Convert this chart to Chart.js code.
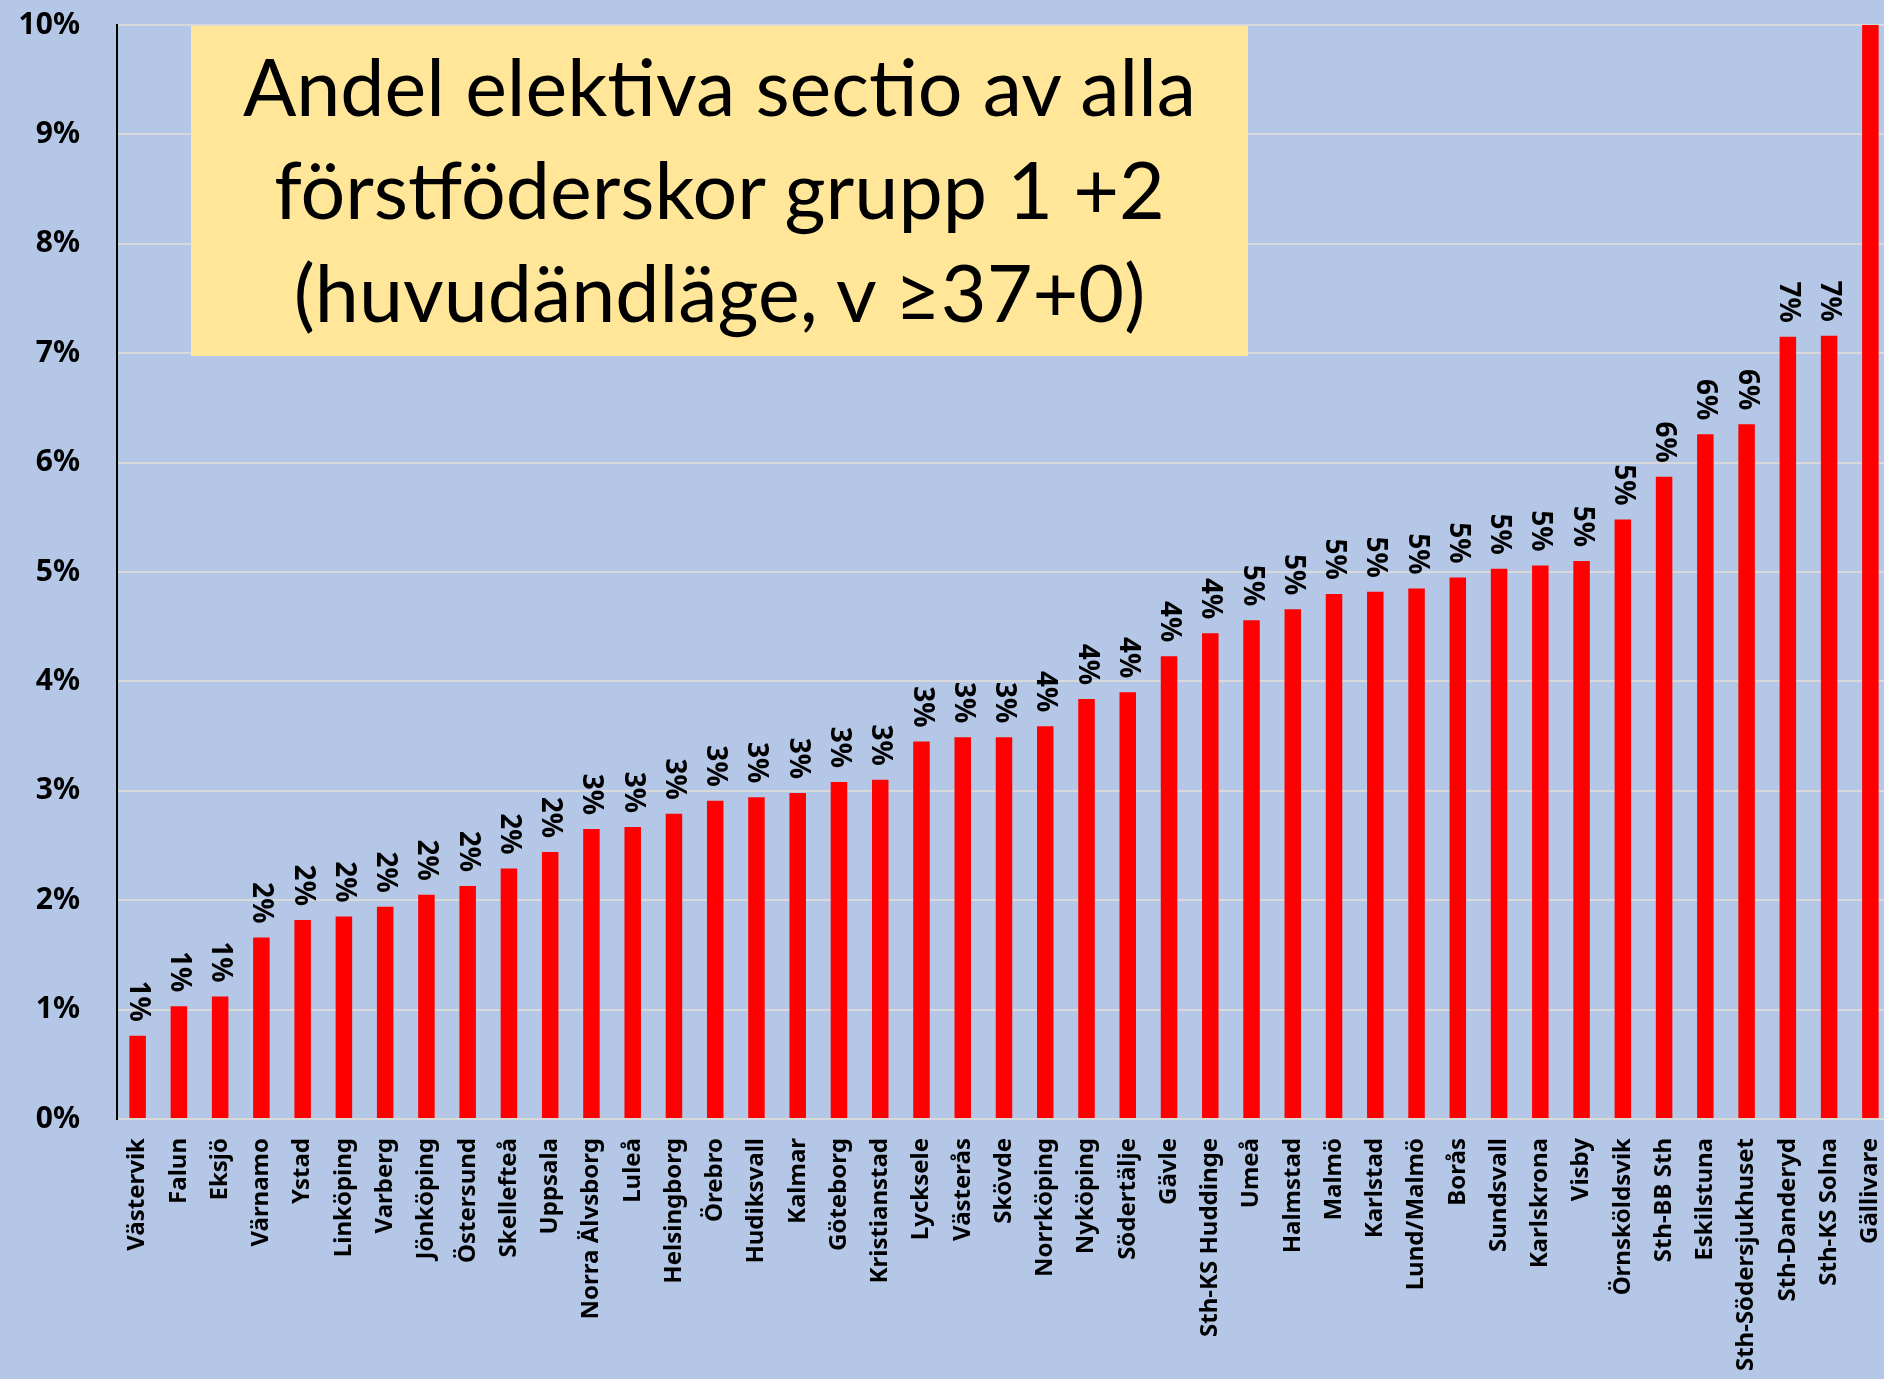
<!DOCTYPE html>
<html>
<head>
<meta charset="utf-8">
<title>Andel elektiva sectio</title>
<script src="https://cdn.jsdelivr.net/npm/chart.js@4.4.0/dist/chart.umd.min.js"></script>
<style>
  html, body { margin: 0; padding: 0; background: #b4c7e7; overflow: hidden; }
  #wrap { position: relative; width: 1884px; height: 1379px; overflow: hidden; }
  #chart { position: absolute; left: 0; top: 0; }
  #title {
    position: absolute; left: 191px; top: 26px; width: 1057px; height: 330px;
    background: #ffe699; box-sizing: border-box; padding-top: 8px;
    font-family: Lato, "Noto Sans", sans-serif; font-size: 79px; line-height: 103px;
    text-align: center; color: #000;
  }
</style>
</head>
<body>
<div id="wrap">
  <canvas id="chart" width="1892" height="1379"></canvas>
  <div id="title">Andel elektiva sectio av alla<br>förstföderskor grupp 1 +2<br>(huvudändläge, v ≥37+0)</div>
</div>
<script>
// Andel elektiva sectio per sjukhus (procent)
const hospitals = [
  "Västervik", "Falun", "Eksjö", "Värnamo", "Ystad", "Linköping", "Varberg",
  "Jönköping", "Östersund", "Skellefteå", "Uppsala", "Norra Älvsborg", "Luleå",
  "Helsingborg", "Örebro", "Hudiksvall", "Kalmar", "Göteborg", "Kristianstad",
  "Lycksele", "Västerås", "Skövde", "Norrköping", "Nyköping", "Södertälje",
  "Gävle", "Sth-KS Huddinge", "Umeå", "Halmstad", "Malmö", "Karlstad",
  "Lund/Malmö", "Borås", "Sundsvall", "Karlskrona", "Visby", "Örnsköldsvik",
  "Sth-BB Sth", "Eskilstuna", "Sth-Södersjukhuset", "Sth-Danderyd",
  "Sth-KS Solna", "Gällivare"
];
const shares = [
  0.76, 1.03, 1.12, 1.66, 1.82, 1.85, 1.94,
  2.05, 2.13, 2.29, 2.44, 2.65, 2.67,
  2.79, 2.91, 2.94, 2.98, 3.08, 3.10,
  3.45, 3.49, 3.49, 3.59, 3.84, 3.90,
  4.23, 4.44, 4.56, 4.66, 4.80, 4.82,
  4.85, 4.95, 5.03, 5.06, 5.10, 5.48,
  5.87, 6.26, 6.35, 7.15,
  7.16, 11.0
];
const yTicks = [0, 1, 2, 3, 4, 5, 6, 7, 8, 9, 10];
const yMax = 10;

// procentetiketter ovanför staplarna, roterade
const pctLabels = {
  id: 'pctLabels',
  afterDatasetsDraw(chart) {
    const ctx = chart.ctx;
    const meta = chart.getDatasetMeta(0);
    ctx.save();
    ctx.font = 'bold 28px "Noto Sans"';
    ctx.fillStyle = '#000';
    ctx.textAlign = 'right';
    ctx.textBaseline = 'middle';
    meta.data.forEach((bar, i) => {
      if (shares[i] > yMax) return;
      ctx.save();
      ctx.translate(bar.x, bar.y - 14);
      ctx.rotate(Math.PI / 2);
      ctx.fillText(Math.round(shares[i]) + '%', 0, 0);
      ctx.restore();
    });
    ctx.restore();
  }
};

new Chart(document.getElementById('chart'), {
  type: 'bar',
  data: {
    labels: hospitals,
    datasets: [{
      data: shares,
      backgroundColor: '#ff0000',
      borderWidth: 0,
      categoryPercentage: 1,
      barPercentage: 0.4
    }]
  },
  options: {
    responsive: false,
    animation: false,
    layout: { padding: { top: 25, right: 1, left: 0, bottom: 0 } },
    plugins: { legend: { display: false }, tooltip: { enabled: false } },
    scales: {
      x: {
        grid: { display: false, drawTicks: false },
        border: { color: '#d9d9d9', width: 2 },
        ticks: {
          autoSkip: false, maxRotation: 90, minRotation: 90, padding: 19,
          color: '#000', font: { family: 'Noto Sans', weight: 'bold', size: 24 }
        },
        afterFit(scale) { scale.height = 260; scale.paddingLeft = 0; scale.paddingRight = 0; }
      },
      y: {
        min: 0, max: yMax,
        afterBuildTicks(scale) { scale.ticks = yTicks.map(v => ({ value: v })); },
        grid: { color: '#d9d9d9', lineWidth: 2, drawTicks: false },
        border: { color: '#000', width: 2 },
        ticks: {
          padding: 37, color: '#000',
          font: { family: 'Noto Sans', weight: 'bold', size: 30 },
          callback: v => v + '%'
        },
        afterFit(scale) { scale.width = 117; scale.paddingTop = 0; scale.paddingBottom = 0; }
      }
    }
  },
  plugins: [pctLabels]
});
</script>
</body>
</html>
